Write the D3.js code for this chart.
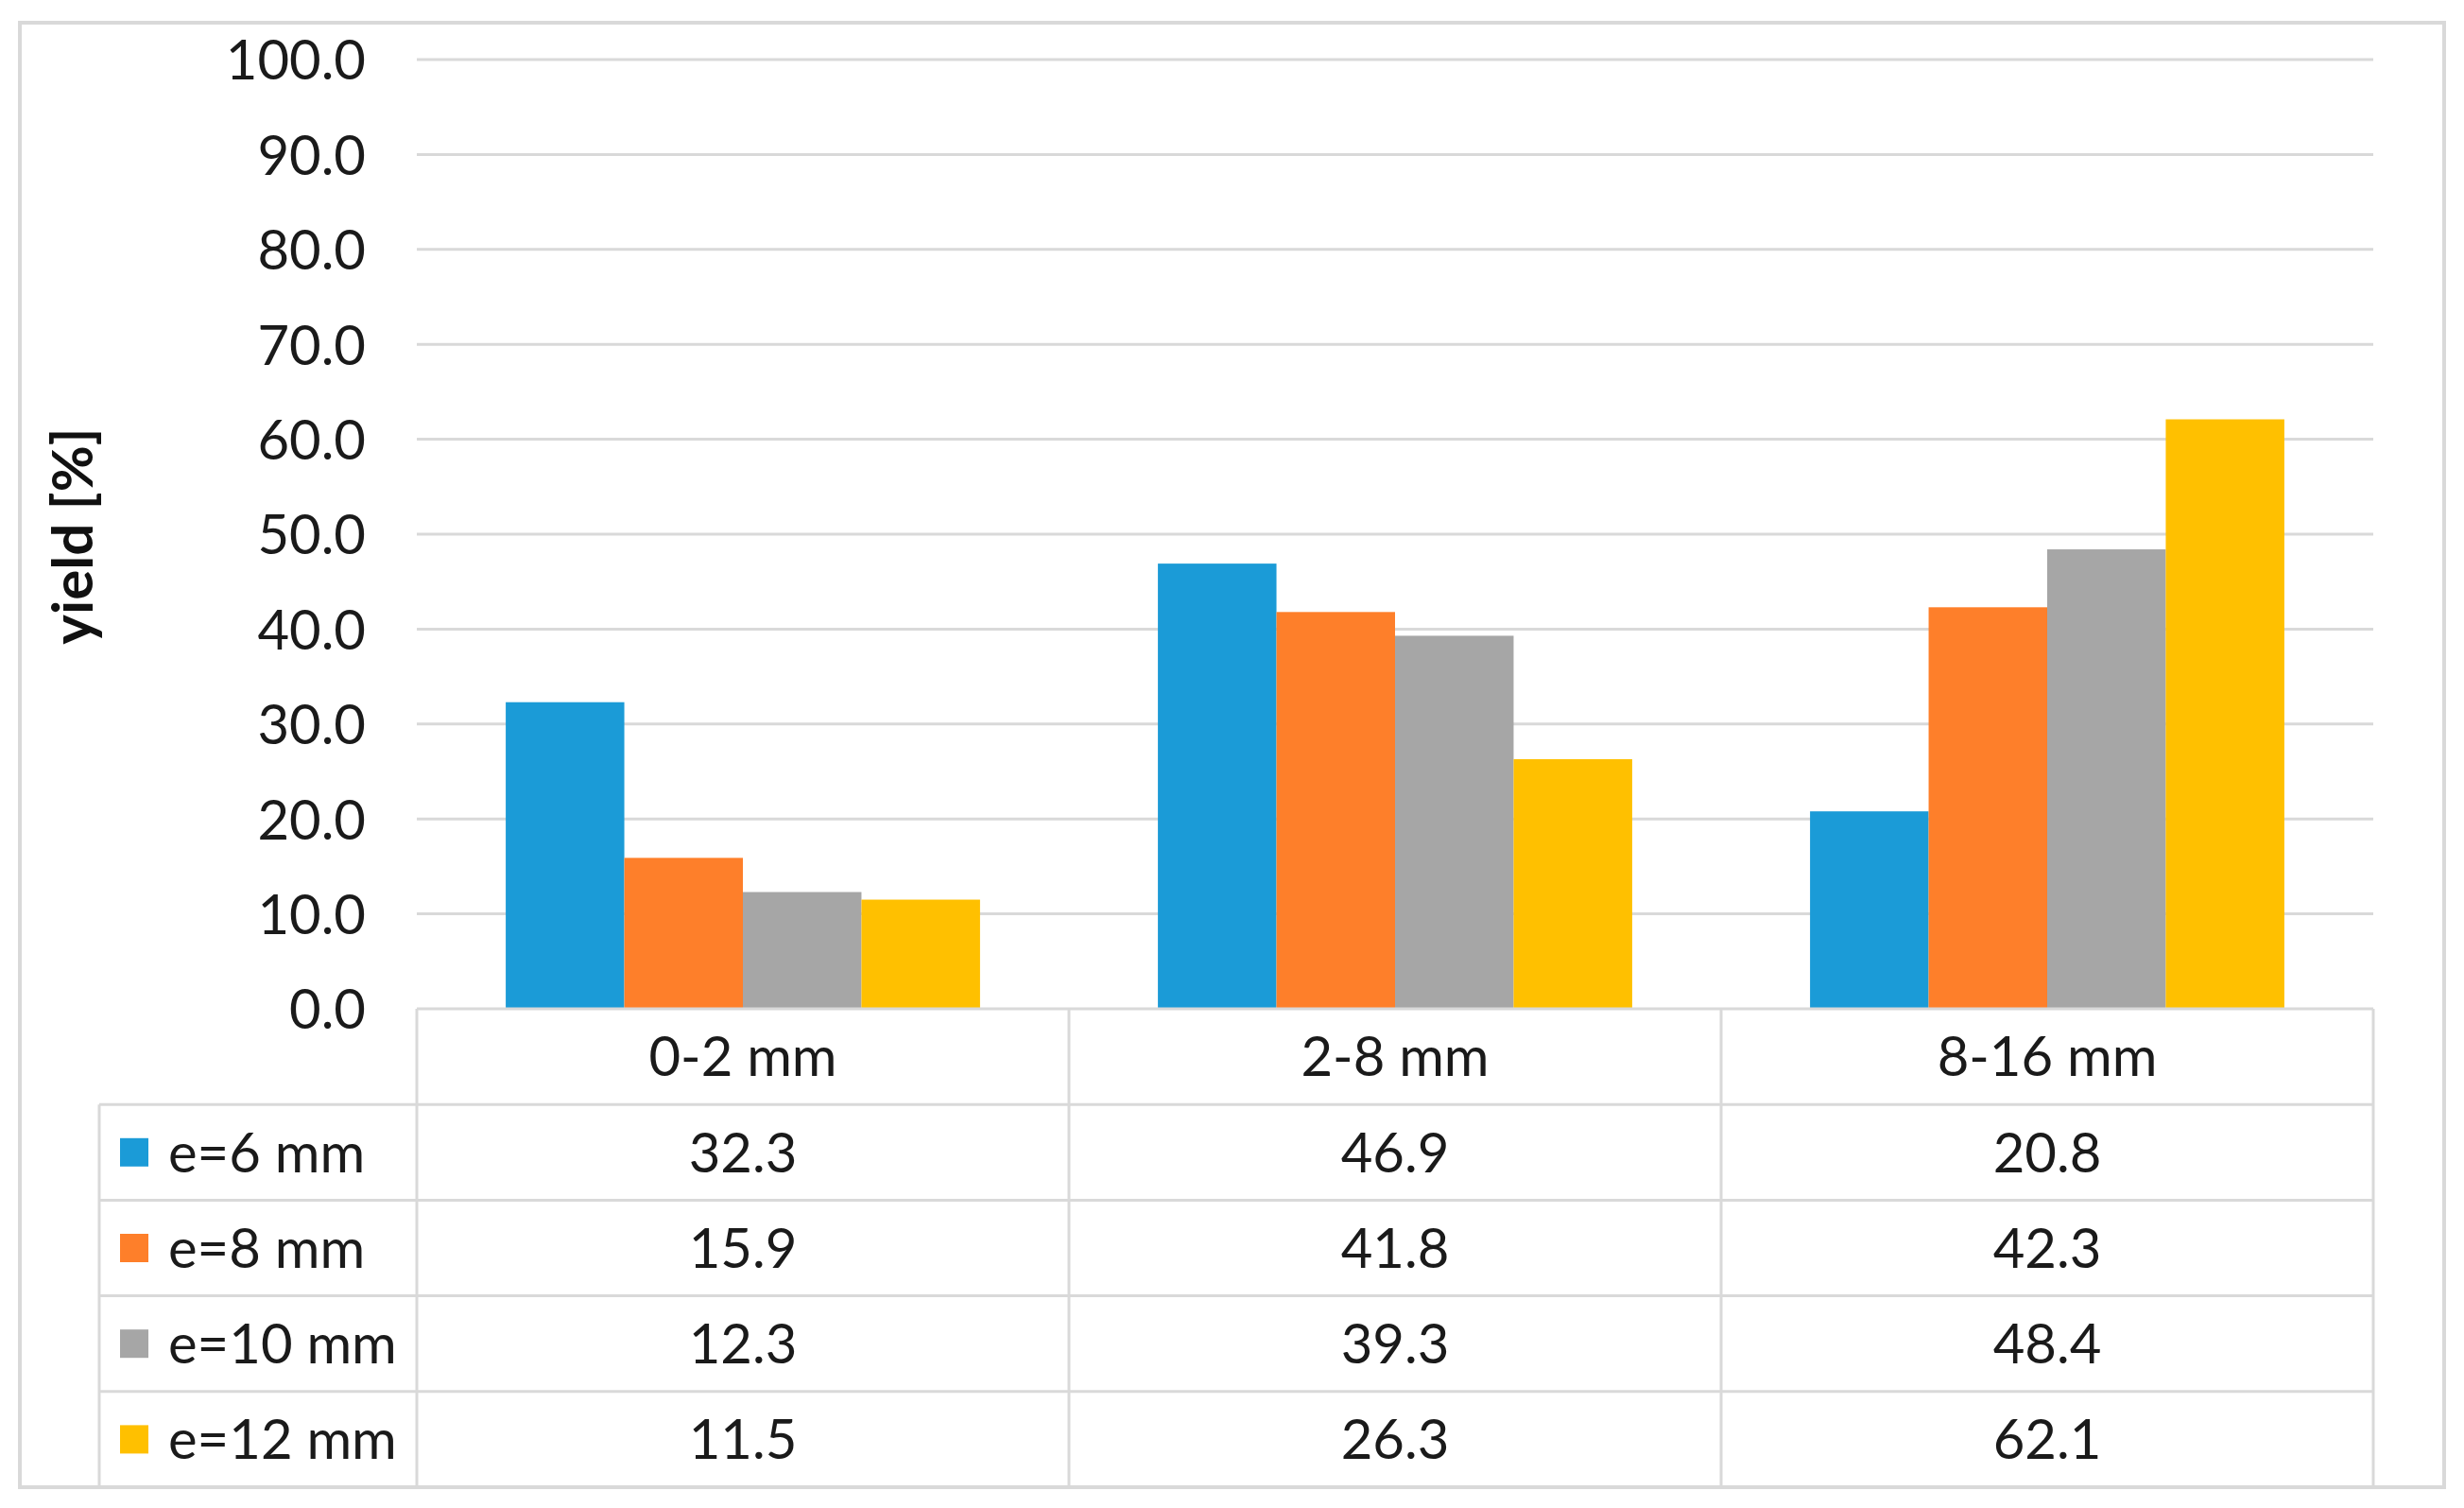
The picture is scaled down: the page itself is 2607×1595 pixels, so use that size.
<!DOCTYPE html>
<html><head><meta charset="utf-8">
<script src="https://cdn.jsdelivr.net/npm/d3@7"></script>
<style>html,body{margin:0;padding:0;background:#fff;}svg{display:block;}</style>
</head><body>
<script>
const categories = ["0-2 mm", "2-8 mm", "8-16 mm"];
const seriesNames = ["e=6 mm", "e=8 mm", "e=10 mm", "e=12 mm"];
const e6 = [32.3, 46.9, 20.8];
const e8 = [15.9, 41.8, 42.3];
const e10 = [12.3, 39.3, 48.4];
const e12 = [11.5, 26.3, 62.1];
const yTicks = [0, 10, 20, 30, 40, 50, 60, 70, 80, 90, 100];
const colors = ["#1b9bd7", "#fe7f2a", "#a6a6a6", "#ffc000"];
const series = [e6, e8, e10, e12];

const W = 2607, H = 1595;
const font = "Lato, 'Open Sans', sans-serif";
const fs = 58;
const txtC = "#1a1a1a";
const svg = d3.select("body").append("svg").attr("width", W).attr("height", H);

// outer frame
svg.append("rect").attr("x", 21).attr("y", 24).attr("width", 2565).attr("height", 1549)
  .attr("fill", "#fff").attr("stroke", "#d9d9d9").attr("stroke-width", 4);

const plotL = 441, plotR = 2511, plotT = 63, plotB = 1067;
const y = d3.scaleLinear().domain([0, 100]).range([plotB, plotT]);
const x0 = d3.scaleBand().domain(categories).range([plotL, plotR]).paddingInner(0).paddingOuter(0);
const barW = x0.bandwidth() / 5.5;
const x1 = d3.scaleBand().domain(d3.range(4)).range([0, barW * 4]);
const groupOff = (x0.bandwidth() - barW * 4) / 2;

// gridlines
svg.append("g").selectAll("line").data(yTicks.filter(d => d > 0)).join("line")
  .attr("x1", plotL).attr("x2", plotR).attr("y1", d => y(d)).attr("y2", d => y(d))
  .attr("stroke", "#d9d9d9").attr("stroke-width", 3);

// y axis labels
const yAxis = d3.axisLeft(y).tickValues(yTicks).tickFormat(d3.format(".1f")).tickSize(0).tickPadding(0);
const yg = svg.append("g").attr("transform", `translate(${387},0)`).call(yAxis);
yg.select(".domain").remove();
yg.selectAll("text").attr("font-family", font).attr("font-size", fs).attr("fill", txtC).attr("dy", "0.36em");

// bars
series.forEach((vals, si) => {
  svg.append("g").selectAll("rect").data(vals).join("rect")
    .attr("x", (d, i) => x0(categories[i]) + groupOff + x1(si))
    .attr("width", x1.bandwidth())
    .attr("y", d => y(d))
    .attr("height", d => y(0) - y(d))
    .attr("fill", colors[si]);
});

// y title
svg.append("text").attr("transform", `translate(${98},${567}) rotate(-90)`)
  .attr("text-anchor", "middle").attr("font-family", font).attr("font-weight", "bold")
  .attr("font-size", 60).attr("fill", "#111").text("yield [%]");

// data table
const legendL = 105;
const rowH = (1573 - plotB) / 5;
const rowY = d3.range(6).map(i => plotB + i * rowH);
const tg = svg.append("g");
const lineC = "#d9d9d9";
tg.append("line").attr("x1", plotL).attr("x2", plotR).attr("y1", plotB).attr("y2", plotB).attr("stroke", lineC).attr("stroke-width", 3);
rowY.slice(1, 5).forEach(yy => tg.append("line").attr("x1", legendL).attr("x2", plotR).attr("y1", yy).attr("y2", yy).attr("stroke", lineC).attr("stroke-width", 3));
tg.append("line").attr("x1", legendL).attr("x2", legendL).attr("y1", rowY[1]).attr("y2", rowY[5]).attr("stroke", lineC).attr("stroke-width", 3);
[plotL, ...categories.map(c => x0(c) + x0.bandwidth())].forEach(xx =>
  tg.append("line").attr("x1", xx).attr("x2", xx).attr("y1", plotB).attr("y2", rowY[5]).attr("stroke", lineC).attr("stroke-width", 3));

// header
tg.selectAll("text.hdr").data(categories).join("text").attr("class", "hdr")
  .attr("x", d => x0(d) + x0.bandwidth() / 2).attr("y", (rowY[0] + rowY[1]) / 2)
  .attr("dy", "0.36em").attr("text-anchor", "middle").attr("font-family", font).attr("font-size", fs).attr("fill", txtC).text(d => d);

series.forEach((vals, si) => {
  const cy = (rowY[si + 1] + rowY[si + 2]) / 2;
  tg.append("rect").attr("x", 127).attr("y", cy - 15).attr("width", 30).attr("height", 30).attr("fill", colors[si]);
  tg.append("text").attr("x", 178).attr("y", cy).attr("dy", "0.36em").attr("font-family", font)
    .attr("font-size", fs).attr("fill", txtC).text(seriesNames[si]);
  tg.selectAll(null).data(vals).join("text")
    .attr("x", (d, i) => x0(categories[i]) + x0.bandwidth() / 2).attr("y", cy).attr("dy", "0.36em")
    .attr("text-anchor", "middle").attr("font-family", font).attr("font-size", fs).attr("fill", txtC)
    .text(d => d3.format(".1f")(d));
});
</script>
</body></html>
